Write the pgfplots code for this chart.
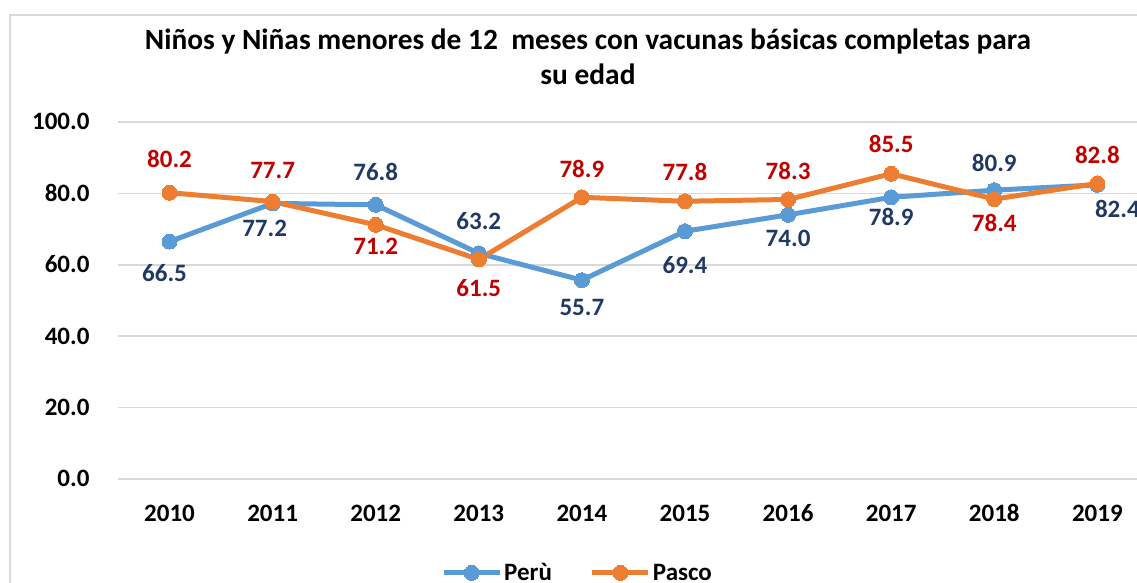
\documentclass[border=0pt]{standalone}
\usepackage{pgfplots}
\pgfplotsset{compat=1.18}
\usepackage{pgfplotstable}
\usepackage{fontspec}
\setmainfont{Carlito}
\definecolor{cPeru}{HTML}{5B9BD5}
\definecolor{cPasco}{HTML}{ED7D31}
\definecolor{lPeru}{HTML}{203864}
\definecolor{lPasco}{HTML}{C00000}
\definecolor{gridc}{HTML}{D9D9D9}

\pgfplotstableread{
x y dy dx
0 66.5 -32 -5
1 77.2 -25 -8
2 76.8 32 0
3 63.2 32 0
4 55.7 -27 0
5 69.4 -34 0
6 74.0 -24 0
7 78.9 -20 0
8 80.9 27 0
9 82.4 -25 20
}\peru
\pgfplotstableread{
x y dy dx
0 80.2 33 0
1 77.7 31 0
2 71.2 -22 0
3 61.5 -29 0
4 78.9 28 0
5 77.8 29 0
6 78.3 28 0
7 85.5 29 0
8 78.4 -24 0
9 82.8 28 0
}\pasco

\begin{document}
\begin{tikzpicture}[x=1pt,y=1pt]
\useasboundingbox (0,0) rectangle (1137,583);
\draw[gridc, line width=1.2pt] (10,-20) -- (10,568) -- (1160,568);
\node[font=\bfseries\fontsize{29.4}{35}\selectfont, align=center] at (588,526) {Niños y Niñas menores de 12\ \ meses con vacunas básicas completas para\\su edad};
\begin{axis}[
  at={(118pt,104pt)}, anchor=south west,
  scale only axis, width=1019pt, height=357pt,
  xmin=-0.5, xmax=9.384, ymin=0, ymax=100,
  axis line style={draw=none},
  major tick length=0pt,
  xtick={0,...,9},
  xticklabels={2010,2011,2012,2013,2014,2015,2016,2017,2018,2019},
  ytick={0,20,40,60,80,100},
  ymajorgrids,
  grid style={gridc, line width=1.5pt},
  tick label style={font=\bfseries\fontsize{25}{30}\selectfont},
  yticklabel style={xshift=-25pt, text height=16pt, text depth=0pt},
  xticklabel style={yshift=-23pt, text height=16pt, text depth=0pt},
  /pgf/number format/assume math mode=true,
  /pgf/number format/fixed, /pgf/number format/fixed zerofill, /pgf/number format/precision=1,
  clip=false,
  legend columns=2,
  legend style={at={(0.451,-0.263)}, anchor=center, draw=none, fill=none,
    font=\bfseries\fontsize{25}{30}\selectfont,
    /tikz/every even column/.append style={column sep=36pt}},
  legend image code/.code={\draw[mark repeat=2,mark phase=2] plot coordinates {(0pt,0pt) (28pt,0pt) (56pt,0pt)};},
  nodes near coords,
  every node near coord/.append style={font=\bfseries\fontsize{25}{30}\selectfont, anchor=center, text height=16pt, text depth=0pt, /pgf/number format/fixed, /pgf/number format/fixed zerofill, /pgf/number format/precision=1, /pgf/number format/assume math mode=true},
  visualization depends on={\thisrow{dy} \as \ldy},
  visualization depends on={\thisrow{dx} \as \ldx},
]
\addplot[cPeru, line width=5pt, mark=*, mark size=7.5pt, mark options={fill=cPeru, draw=cPeru, line width=0pt},
  every node near coord/.append style={text=lPeru, yshift=\ldy pt, xshift=\ldx pt}]
  table[x=x,y=y] {\peru};
\addlegendentry{Perù}
\addplot[cPasco, line width=5pt, mark=*, mark size=7.5pt, mark options={fill=cPasco, draw=cPasco, line width=0pt},
  every node near coord/.append style={text=lPasco, yshift=\ldy pt, xshift=\ldx pt}]
  table[x=x,y=y] {\pasco};
\addlegendentry{Pasco}
\end{axis}
\end{tikzpicture}
\end{document}
